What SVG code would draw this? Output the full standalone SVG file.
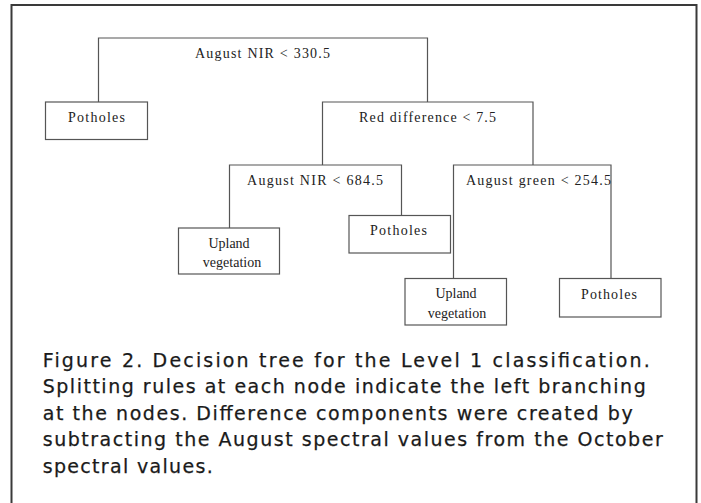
<svg xmlns="http://www.w3.org/2000/svg" width="701" height="503" viewBox="0 0 701 503">
<style>
.frame{fill:none;stroke:#3a3a3a;stroke-width:2}
.box{fill:#fff;stroke:#555;stroke-width:1.2}
.conn{fill:none;stroke:#555;stroke-width:1.2}
.t{font-family:"Liberation Serif","Times New Roman",serif;font-size:14px;fill:#222}
.tc{font-family:"Liberation Serif","Times New Roman",serif;font-size:14px;fill:#222;text-anchor:middle}
.cap{font-family:"DejaVu Sans",sans-serif;font-size:19px;fill:#1a1a1a;stroke:#1a1a1a;stroke-width:0.25}
</style>
<rect x="0" y="0" width="701" height="503" fill="#fff"/>
<path class="frame" d="M11.5,510 V5 H696.5 V510"/>
<g id="connectors">
<path class="conn" d="M98.5,102 V38 H427.5 V102"/>
<path class="conn" d="M322.5,165 V102 H533 V165"/>
<path class="conn" d="M229.5,228 V165 H401.5 V215.5"/>
<path class="conn" d="M453.5,278.5 V165 H611 V278.5"/>
</g>
<g id="split-root"><text class="t" x="195" y="58" textLength="135">August NIR &lt; 330.5</text></g>
<g id="split-red"><text class="t" x="359" y="122" textLength="137">Red difference &lt; 7.5</text></g>
<g id="split-nir"><text class="t" x="247" y="185" textLength="136">August NIR &lt; 684.5</text></g>
<g id="split-green"><text class="t" x="466" y="185" textLength="145">August green &lt; 254.5</text></g>
<g id="leaf-potholes-1">
<rect class="box" x="45.5" y="102" width="102" height="37.5"/>
<text class="t" x="68" y="122" textLength="57">Potholes</text>
</g>
<g id="leaf-upland-1">
<rect class="box" x="178.5" y="228" width="101" height="46"/>
<text class="tc" x="229" y="248">Upland</text>
<text class="tc" x="232" y="267">vegetation</text>
</g>
<g id="leaf-potholes-2">
<rect class="box" x="349" y="215.5" width="101.5" height="37.5"/>
<text class="t" x="370" y="235" textLength="57">Potholes</text>
</g>
<g id="leaf-upland-2">
<rect class="box" x="405" y="278.5" width="101.5" height="46.5"/>
<text class="tc" x="456" y="298">Upland</text>
<text class="tc" x="457" y="318">vegetation</text>
</g>
<g id="leaf-potholes-3">
<rect class="box" x="559.5" y="278.5" width="101.5" height="38.5"/>
<text class="t" x="581" y="299" textLength="56">Potholes</text>
</g>
<g id="caption">
<text class="cap" x="42.7" y="367" textLength="607">Figure 2. Decision tree for the Level 1 classification.</text>
<text class="cap" x="42.7" y="393" textLength="603">Splitting rules at each node indicate the left branching</text>
<text class="cap" x="42.7" y="419.5" textLength="590">at the nodes. Difference components were created by</text>
<text class="cap" x="42.7" y="446" textLength="620">subtracting the August spectral values from the October</text>
<text class="cap" x="42.7" y="473" textLength="170">spectral values.</text>
</g>
</svg>
